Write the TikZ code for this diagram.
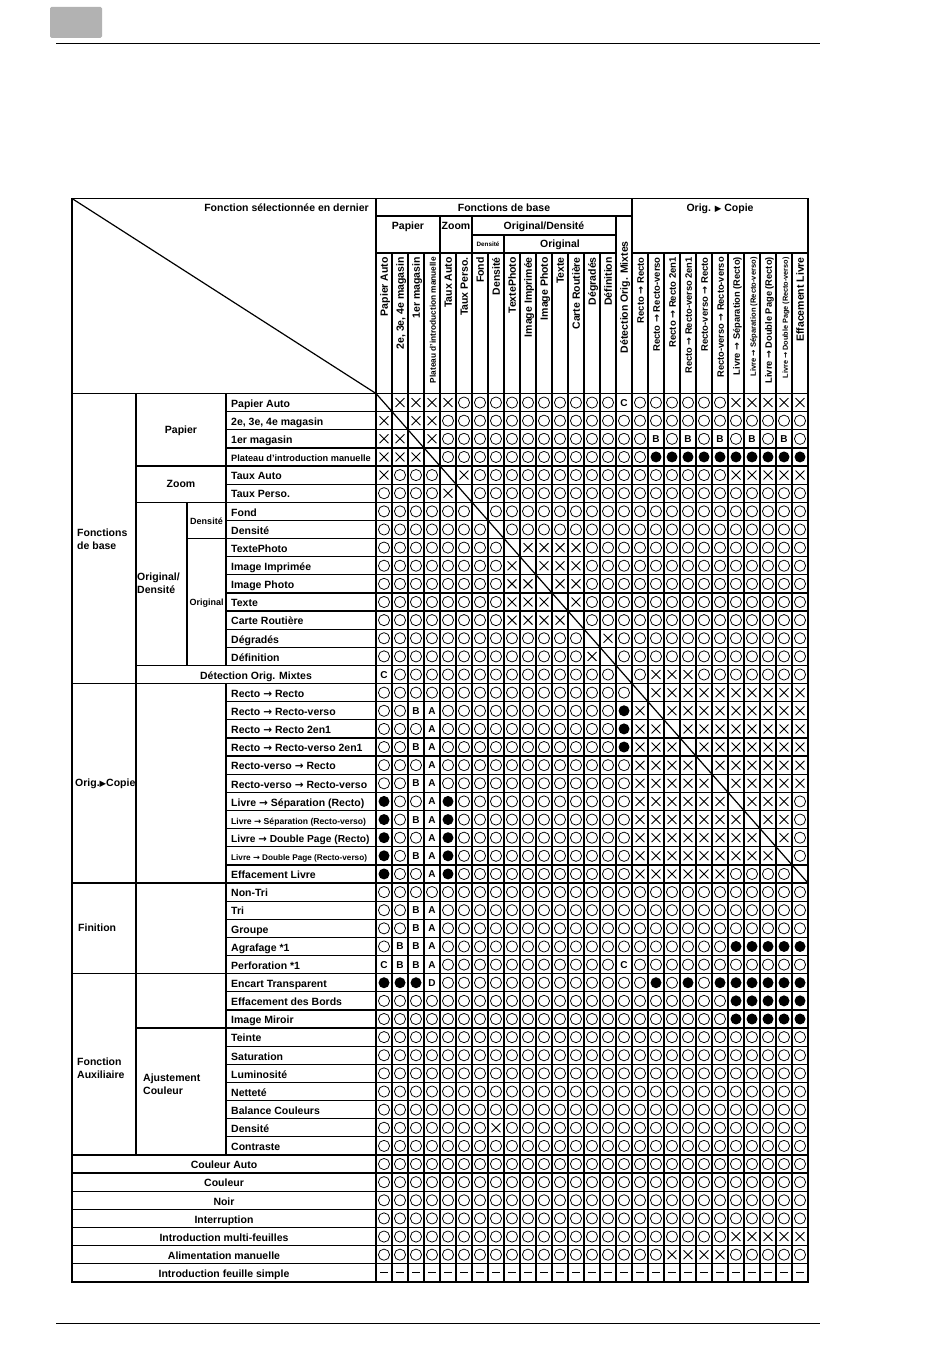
\documentclass[tikz,border=0pt]{standalone}
\usepackage{fontspec}
\setmainfont{Liberation Sans}
\newfontfamily\symbfont{DejaVu Sans}
\usetikzlibrary{shapes.misc}

\newcommand{\fsz}[2]{{\fontsize{#1}{#1}\selectfont #2}}
\newcommand{\playmark}{{\symbfont\fontsize{8.5}{8.5}\selectfont ▶}}
\newcommand{\ra}{{\symbfont →}}
\def\ctA{A}\def\ctB{B}\def\ctC{C}\def\ctD{D}

% one row of the grid: row number, then 27 cell codes
\newcommand{\cellrow}[2]{%
  \foreach \s [count=\k] in {#2} {
    \node[cell\s] (c-#1-\k) at ({376+16*(\k-0.5)},{393.5+18.13*(#1-0.5)}) {\csname ct\s\endcsname};
  }}

\begin{document}
\begin{tikzpicture}[x=1pt,y=-1pt,
  lab/.style={font=\bfseries\fontsize{10.5}{12.5}\selectfont,inner sep=0pt,text height=7.5pt,text depth=0pt},
  grp/.style={font=\bfseries\fontsize{10.5}{13}\selectfont,inner sep=0pt,align=left},
  vlab/.style={lab,rotate=90,anchor=east},
  cello/.style={circle,draw,line width=0.75pt,minimum size=11.2pt,inner sep=0pt},
  cellf/.style={circle,fill,minimum size=11pt,inner sep=0pt},
  cellx/.style={cross out,draw,line width=0.9pt,minimum size=8pt,inner sep=0pt},
  celld/.style={inner sep=0pt},
  cellm/.style={fill,minimum width=8pt,minimum height=1pt,inner sep=0pt},
  cellA/.style={font=\bfseries\fontsize{10}{10}\selectfont,inner sep=0pt,text height=7pt,text depth=0pt},
  cellB/.style={cellA}, cellC/.style={cellA}, cellD/.style={cellA},
  rule/.style={line width=1.25pt}]

\useasboundingbox (0,0) rectangle (950,1362);

% page marks
\fill[black!30,rounded corners=1.5pt] (50,7) rectangle (102,38);
\draw[line width=1pt] (56,44) -- (820,44);
\draw[line width=1pt] (56,1323) -- (820,1323);

% table lines
\begin{scope}[rule]
  \draw[line width=1.4pt] (72,198.5) rectangle (808,1281.9);
  \draw (376,216) -- (632,216);
  \draw (472,235) -- (616,235);
  \draw (376,253) -- (616,253);
  \draw (632,253) -- (808,253);
  \draw (440,216) -- (440,253);
  \draw (472,216) -- (472,253);
  \draw (504,235) -- (504,253);
  \draw (616,216) -- (616,253);
  \draw (632,198.5) -- (632,253);
  \foreach \k in {1,...,26}
    \draw ({376+16*\k},253) -- ({376+16*\k},1281.9);
  \draw (376,198.5) -- (376,1281.9);
  \draw (136,393.5) -- (136,{393.5+18.13*42});
  \draw (187,{393.5+18.13*6}) -- (187,{393.5+18.13*15});
  \draw (226,393.5) -- (226,{393.5+18.13*15});
  \draw (226,{393.5+18.13*16}) -- (226,{393.5+18.13*42});
  \foreach \r in {1,2,3,5,7,9,10,11,12,13,14,17,18,19,20,21,22,23,24,25,26,28,29,30,31,33,34,36,37,38,39,40,41}
    \draw (226,{393.5+18.13*\r}) -- (808,{393.5+18.13*\r});
  \draw (187,{393.5+18.13*8}) -- (808,{393.5+18.13*8});
  \foreach \r in {4,6,15,35}
    \draw (136,{393.5+18.13*\r}) -- (808,{393.5+18.13*\r});
  \foreach \r in {0,16,27,32,42,43,44,45,46,47,48}
    \draw (72,{393.5+18.13*\r}) -- (808,{393.5+18.13*\r});
  \draw[line width=1.2pt] (72,198.5) -- (376,393.5);
  \draw[line width=1.2pt] (376,393.5) -- (808,{393.5+18.13*27});
\end{scope}

% header
\node[lab,anchor=east] (hdlast) at (369,208) {Fonction sélectionnée en dernier};
\node[lab] (hdbase) at (504,208) {Fonctions de base};
\node[lab] (hdorig) at (720,208) {Orig. \playmark{} Copie};
\node[lab] (hdpap) at (408,226) {Papier};
\node[lab] (hdzoom) at (456,226) {Zoom};
\node[lab] (hdorigd) at (544,226) {Original/Densité};
\node[lab,font=\bfseries\fontsize{6.3}{7}\selectfont,text height=4.5pt] (hddens) at (488,244) {Densité};
\node[lab] (hdoriginal) at (560,244) {Original};

\foreach \t [count=\k] in {Papier Auto, {2e, 3e, 4e magasin}, 1er magasin,
    {\fsz{8.3}{Plateau d’introduction manuelle}}, Taux Auto, Taux Perso., Fond, Densité,
    TextePhoto, Image Imprimée, Image Photo, Texte, Carte Routière, Dégradés, Définition}
  {\node[vlab] (col-\k) at ({376+16*(\k-0.5)},257) {\t};}
\node[vlab] (col-16) at ({376+16*15.5},241) {Détection Orig. Mixtes};
\foreach \t [count=\k from 17] in {{\fsz{9.5}{Recto \ra{} Recto}}, {\fsz{9.5}{Recto \ra{} Recto-verso}},
    {\fsz{9.5}{Recto \ra{} Recto 2en1}}, {\fsz{9.3}{Recto \ra{} Recto-verso 2en1}},
    {\fsz{9.5}{Recto-verso \ra{} Recto}}, {\fsz{9.3}{Recto-verso \ra{} Recto-verso}},
    {\fsz{9.3}{Livre \ra{} Séparation (Recto)}}, {\fsz{7.6}{Livre \ra{} Séparation (Recto-verso)}},
    {\fsz{9.3}{Livre \ra{} Double Page (Recto)}}, {\fsz{7.3}{Livre \ra{} Double Page (Recto-verso)}},
    Effacement Livre}
  {\node[vlab] (col-\k) at ({376+16*(\k-0.5)},257) {\t};}

% row labels
\foreach \r/\t in {1/Papier Auto, 2/{2e, 3e, 4e magasin}, 3/1er magasin,
    4/{\fsz{9.2}{Plateau d’introduction manuelle}}, 5/Taux Auto, 6/Taux Perso.,
    7/Fond, 8/Densité, 9/TextePhoto, 10/Image Imprimée, 11/Image Photo, 12/Texte,
    13/Carte Routière, 14/Dégradés, 15/Définition,
    17/Recto \ra{} Recto, 18/Recto \ra{} Recto-verso, 19/Recto \ra{} Recto 2en1,
    20/Recto \ra{} Recto-verso 2en1, 21/Recto-verso \ra{} Recto, 22/Recto-verso \ra{} Recto-verso,
    23/Livre \ra{} Séparation (Recto), 24/{\fsz{8.6}{Livre \ra{} Séparation (Recto-verso)}},
    25/{\fsz{10.2}{Livre \ra{} Double Page (Recto)}}, 26/{\fsz{8.2}{Livre \ra{} Double Page (Recto-verso)}},
    27/Effacement Livre, 28/Non-Tri, 29/Tri, 30/Groupe, 31/Agrafage *1, 32/Perforation *1,
    33/Encart Transparent, 34/Effacement des Bords, 35/Image Miroir, 36/Teinte,
    37/Saturation, 38/Luminosité, 39/Netteté, 40/Balance Couleurs, 41/Densité, 42/Contraste}
  {\node[lab,anchor=west] (row-\r) at (231,{393.5+18.13*(\r-0.5)+1}) {\t};}
\foreach \r/\t in {43/Couleur Auto, 44/Couleur, 45/Noir, 46/Interruption,
    47/Introduction multi-feuilles, 48/Alimentation manuelle, 49/Introduction feuille simple}
  {\node[lab] (row-\r) at (224,{393.5+18.13*(\r-0.5)+1}) {\t};}
\node[lab] (row-16) at (256,{393.5+18.13*15.5+1}) {Détection Orig. Mixtes};

% group labels
\node[grp,anchor=west] (gbase) at (77,539) {Fonctions\\de base};
\node[lab] (gpap) at (181,430) {Papier};
\node[lab] (gzoom) at (181,484) {Zoom};
\node[grp,anchor=west] (gorigd) at (137,583) {Original/\\Densité};
\node[lab,font=\bfseries\fontsize{9}{10}\selectfont] (gdens) at (206.5,521) {Densité};
\node[lab,font=\bfseries\fontsize{9}{10}\selectfont] (gorig) at (206.5,602) {Original};
\node[lab,anchor=west] (gcopie) at (75,783) {Orig.\playmark Copie};
\node[lab,anchor=west] (gfin) at (78,928) {Finition};
\node[grp,anchor=west] (gaux) at (77,1068) {Fonction\\Auxiliaire};
\node[grp,anchor=west] (gajust) at (143,1084) {Ajustement\\Couleur};

% cells
\cellrow{1}{d,x,x,x,x, o,o,o,o,o, o,o,o,o,o, C,o,o,o,o, o,o,x,x,x, x,x}
\cellrow{2}{x,d,x,x,o, o,o,o,o,o, o,o,o,o,o, o,o,o,o,o, o,o,o,o,o, o,o}
\cellrow{3}{x,x,d,x,o, o,o,o,o,o, o,o,o,o,o, o,o,B,o,B, o,B,o,B,o, B,o}
\cellrow{4}{x,x,x,d,o, o,o,o,o,o, o,o,o,o,o, o,o,f,f,f, f,f,f,f,f, f,f}
\cellrow{5}{x,o,o,o,d, x,o,o,o,o, o,o,o,o,o, o,o,o,o,o, o,o,x,x,x, x,x}
\cellrow{6}{o,o,o,o,x, d,o,o,o,o, o,o,o,o,o, o,o,o,o,o, o,o,o,o,o, o,o}
\cellrow{7}{o,o,o,o,o, o,d,o,o,o, o,o,o,o,o, o,o,o,o,o, o,o,o,o,o, o,o}
\cellrow{8}{o,o,o,o,o, o,o,d,o,o, o,o,o,o,o, o,o,o,o,o, o,o,o,o,o, o,o}
\cellrow{9}{o,o,o,o,o, o,o,o,d,x, x,x,x,o,o, o,o,o,o,o, o,o,o,o,o, o,o}
\cellrow{10}{o,o,o,o,o, o,o,o,x,d, x,x,x,o,o, o,o,o,o,o, o,o,o,o,o, o,o}
\cellrow{11}{o,o,o,o,o, o,o,o,x,x, d,x,x,o,o, o,o,o,o,o, o,o,o,o,o, o,o}
\cellrow{12}{o,o,o,o,o, o,o,o,x,x, x,d,x,o,o, o,o,o,o,o, o,o,o,o,o, o,o}
\cellrow{13}{o,o,o,o,o, o,o,o,x,x, x,x,d,o,o, o,o,o,o,o, o,o,o,o,o, o,o}
\cellrow{14}{o,o,o,o,o, o,o,o,o,o, o,o,o,d,x, o,o,o,o,o, o,o,o,o,o, o,o}
\cellrow{15}{o,o,o,o,o, o,o,o,o,o, o,o,o,x,d, o,o,o,o,o, o,o,o,o,o, o,o}
\cellrow{16}{C,o,o,o,o, o,o,o,o,o, o,o,o,o,o, d,o,x,x,x, o,o,o,o,o, o,o}
\cellrow{17}{o,o,o,o,o, o,o,o,o,o, o,o,o,o,o, o,d,x,x,x, x,x,x,x,x, x,x}
\cellrow{18}{o,o,B,A,o, o,o,o,o,o, o,o,o,o,o, f,x,d,x,x, x,x,x,x,x, x,x}
\cellrow{19}{o,o,o,A,o, o,o,o,o,o, o,o,o,o,o, f,x,x,d,x, x,x,x,x,x, x,x}
\cellrow{20}{o,o,B,A,o, o,o,o,o,o, o,o,o,o,o, f,x,x,x,d, x,x,x,x,x, x,x}
\cellrow{21}{o,o,o,A,o, o,o,o,o,o, o,o,o,o,o, o,x,x,x,x, d,x,x,x,x, x,x}
\cellrow{22}{o,o,B,A,o, o,o,o,o,o, o,o,o,o,o, o,x,x,x,x, x,d,x,x,x, x,x}
\cellrow{23}{f,o,o,A,f, o,o,o,o,o, o,o,o,o,o, o,x,x,x,x, x,x,d,x,x, x,o}
\cellrow{24}{f,o,B,A,f, o,o,o,o,o, o,o,o,o,o, o,x,x,x,x, x,x,x,d,x, x,o}
\cellrow{25}{f,o,o,A,f, o,o,o,o,o, o,o,o,o,o, o,x,x,x,x, x,x,x,x,d, x,o}
\cellrow{26}{f,o,B,A,f, o,o,o,o,o, o,o,o,o,o, o,x,x,x,x, x,x,x,x,x, d,o}
\cellrow{27}{f,o,o,A,f, o,o,o,o,o, o,o,o,o,o, o,x,x,x,x, x,x,o,o,o, o,d}
\foreach \r in {28,36,37,38,39,40,42,43,44,45,46}
  {\cellrow{\r}{o,o,o,o,o, o,o,o,o,o, o,o,o,o,o, o,o,o,o,o, o,o,o,o,o, o,o}}
\cellrow{29}{o,o,B,A,o, o,o,o,o,o, o,o,o,o,o, o,o,o,o,o, o,o,o,o,o, o,o}
\cellrow{30}{o,o,B,A,o, o,o,o,o,o, o,o,o,o,o, o,o,o,o,o, o,o,o,o,o, o,o}
\cellrow{31}{o,B,B,A,o, o,o,o,o,o, o,o,o,o,o, o,o,o,o,o, o,o,f,f,f, f,f}
\cellrow{32}{C,B,B,A,o, o,o,o,o,o, o,o,o,o,o, C,o,o,o,o, o,o,o,o,o, o,o}
\cellrow{33}{f,f,f,D,o, o,o,o,o,o, o,o,o,o,o, o,o,f,o,f, o,f,f,f,f, f,f}
\cellrow{34}{o,o,o,o,o, o,o,o,o,o, o,o,o,o,o, o,o,o,o,o, o,o,f,f,f, f,f}
\cellrow{35}{o,o,o,o,o, o,o,o,o,o, o,o,o,o,o, o,o,o,o,o, o,o,f,f,f, f,f}
\cellrow{41}{o,o,o,o,o, o,o,x,o,o, o,o,o,o,o, o,o,o,o,o, o,o,o,o,o, o,o}
\cellrow{47}{o,o,o,o,o, o,o,o,o,o, o,o,o,o,o, o,o,o,o,o, o,o,x,x,x, x,x}
\cellrow{48}{o,o,o,o,o, o,o,o,o,o, o,o,o,o,o, o,o,o,x,x, x,x,o,o,o, o,o}
\cellrow{49}{m,m,m,m,m, m,m,m,m,m, m,m,m,m,m, m,m,m,m,m, m,m,m,m,m, m,m}

\end{tikzpicture}
\end{document}
